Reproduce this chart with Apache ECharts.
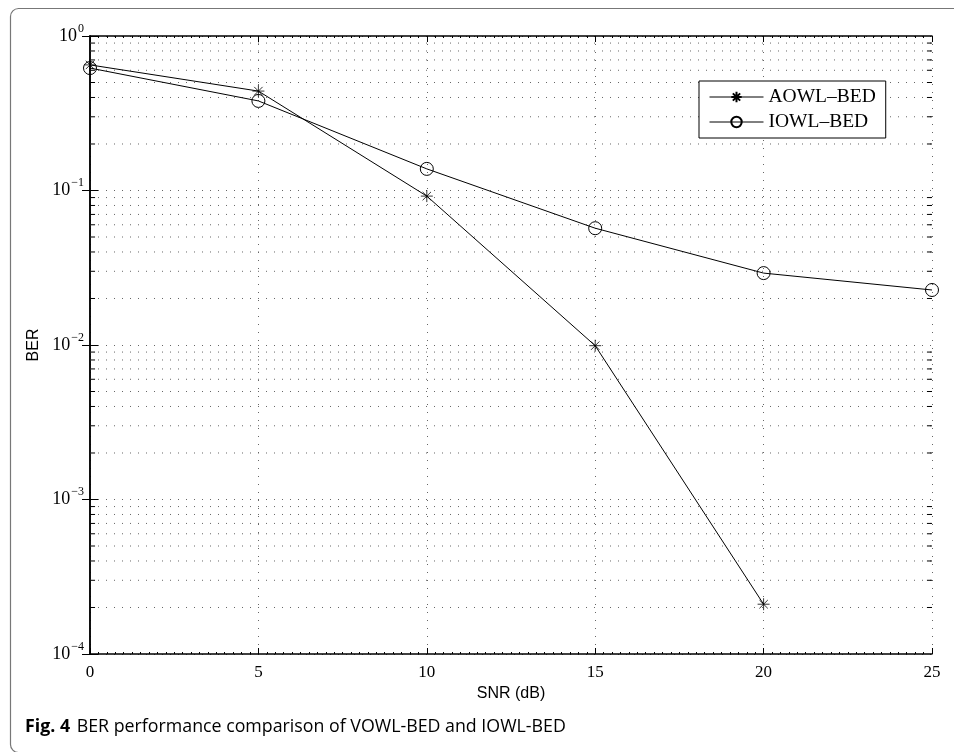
<html>
<head>
<meta charset="UTF-8">
<title>BER performance comparison</title>
<style>
  body { margin: 0; background: #fff; }
  #chart { width: 954px; height: 752px; }
</style>
</head>
<body>
<div id="chart"></div>
<script src="https://cdn.jsdelivr.net/npm/echarts@6/dist/echarts.min.js"></script>
<script>
// SNR values (dB)
const snr = [0, 5, 10, 15, 20, 25];
// BER
const aowlBer = [0.65, 0.44, 0.092, 0.0099, 0.00021];
const iowlBer = [0.62, 0.38, 0.138, 0.057, 0.0292, 0.0227];
const yDecades = [-4, -3, -2, -1, 0];
const minorMult = [2, 3, 4, 5, 6, 7, 8, 9];

function decadeLabel(v) {
  const e = Math.round(Math.log10(v));
  const s = String(e).replace('-', '\u2212');
  return '{b|10}{s|' + s + '}';
}

// minor log values 2..9 x 10^k
const minorVals = [];
yDecades.slice(0, -1).forEach(k => {
  minorMult.forEach(m => minorVals.push(+(m * Math.pow(10, k)).toPrecision(3)));
});

const gridStyle = { type: [1, 7], color: '#666', width: 1 };

// minor grid lines + minor ticks on left/right axes, as plain line series
const minorSeries = [];
minorVals.forEach(v => {
  minorSeries.push({
    type: 'line', silent: true, symbol: 'none', z: 1,
    data: [[0, v], [25, v]],
    lineStyle: gridStyle
  });
  minorSeries.push({
    type: 'line', silent: true, symbol: 'none', z: 3,
    data: [[0, v], [0.15, v]],
    lineStyle: { color: '#000', width: 1 }
  });
  minorSeries.push({
    type: 'line', silent: true, symbol: 'none', z: 3,
    data: [[24.85, v], [25, v]],
    lineStyle: { color: '#000', width: 1 }
  });
});

const star = 'path://M0,-10L0,10M-10,0L10,0M-7,-7L7,7M-7,7L7,-7';
const names = ['AOWL\u2013BED', 'IOWL\u2013BED'];

const chart = echarts.init(document.getElementById('chart'));
chart.setOption({
  animation: false,
  backgroundColor: '#fff',
  textStyle: { fontFamily: 'Liberation Serif' },
  grid: { left: 90, right: 22, top: 36, bottom: 98 },
  legend: {
    data: names,
    orient: 'vertical',
    left: 699, top: 81,
    padding: [6, 10, 6, 10],
    itemGap: 5,
    itemWidth: 54, itemHeight: 13,
    borderColor: '#000', borderWidth: 1,
    backgroundColor: '#fff',
    lineStyle: { width: 1 },
    textStyle: { fontFamily: 'Liberation Serif', fontSize: 19.5, color: '#000' }
  },
  xAxis: [{
    type: 'value', min: 0, max: 25, interval: 5,
    name: 'SNR (dB)', nameLocation: 'middle', nameGap: 27,
    nameTextStyle: { fontFamily: 'Liberation Sans', fontSize: 16, color: '#000' },
    axisLine: { lineStyle: { color: '#000', width: 1.5 } },
    axisTick: { inside: true, length: 6, lineStyle: { color: '#000' } },
    minorTick: { show: true, splitNumber: 20, length: 2, lineStyle: { color: '#000' } },
    axisLabel: { fontFamily: 'Liberation Serif', fontSize: 17, color: '#000', margin: 10 },
    splitLine: { show: true, lineStyle: gridStyle }
  }, {
    type: 'value', min: 0, max: 25, interval: 5, position: 'top',
    axisLine: { show: true, lineStyle: { color: '#000', width: 1.5 } },
    axisTick: { inside: true, length: 6, lineStyle: { color: '#000' } },
    minorTick: { show: true, splitNumber: 20, length: 2, lineStyle: { color: '#000' } },
    axisLabel: { show: false },
    splitLine: { show: false }
  }],
  yAxis: [{
    type: 'log', logBase: 10, min: 1e-4, max: 1,
    name: 'BER', nameLocation: 'middle', nameGap: 45,
    nameTextStyle: { fontFamily: 'Liberation Sans', fontSize: 16, color: '#000' },
    axisLine: { show: true, lineStyle: { color: '#000', width: 1.5 } },
    axisTick: { inside: true, length: 8, lineStyle: { color: '#000' } },
    axisLabel: {
      margin: 6,
      formatter: decadeLabel,
      rich: {
        b: { fontFamily: 'Liberation Serif', fontSize: 18, color: '#000' },
        s: { fontFamily: 'Liberation Serif', fontSize: 12, color: '#000', verticalAlign: 'top', padding: [0, 0, 15, 1] }
      }
    },
    splitLine: { show: true, lineStyle: gridStyle }
  }, {
    type: 'log', logBase: 10, min: 1e-4, max: 1, position: 'right',
    axisLine: { show: true, lineStyle: { color: '#000', width: 1.5 } },
    axisTick: { inside: true, length: 8, lineStyle: { color: '#000' } },
    axisLabel: { show: false },
    splitLine: { show: false }
  }],
  series: [{
    name: names[0], type: 'line',
    data: aowlBer.map((v, i) => [snr[i], v]),
    symbol: star, symbolSize: 12,
    lineStyle: { color: '#000', width: 1 },
    itemStyle: { color: '#000', borderColor: '#000', borderWidth: 0.8 },
    z: 5
  }, {
    name: names[1], type: 'line',
    data: iowlBer.map((v, i) => [snr[i], v]),
    symbol: 'circle', symbolSize: 13, showSymbol: true,
    lineStyle: { color: '#000', width: 1 },
    itemStyle: { color: 'rgba(0,0,0,0)', borderColor: '#000', borderWidth: 1 },
    z: 5
  }].concat(minorSeries),
  graphic: [{
    type: 'rect', left: 8, top: 6,
    shape: { width: 960, height: 744, r: 8 },
    style: { fill: 'none', stroke: '#777', lineWidth: 1.2 },
    silent: true
  }, {
    type: 'text', left: 25, top: 718,
    style: {
      text: '{f|Fig. 4}  {t|BER performance comparison of VOWL-BED and IOWL-BED}',
      rich: {
        f: { fontFamily: 'Open Sans', fontWeight: 'bold', fontSize: 17.8, fill: '#000' },
        t: { fontFamily: 'Open Sans', fontSize: 17.8, fill: '#000' }
      }
    }
  }]
});
</script>
</body>
</html>
